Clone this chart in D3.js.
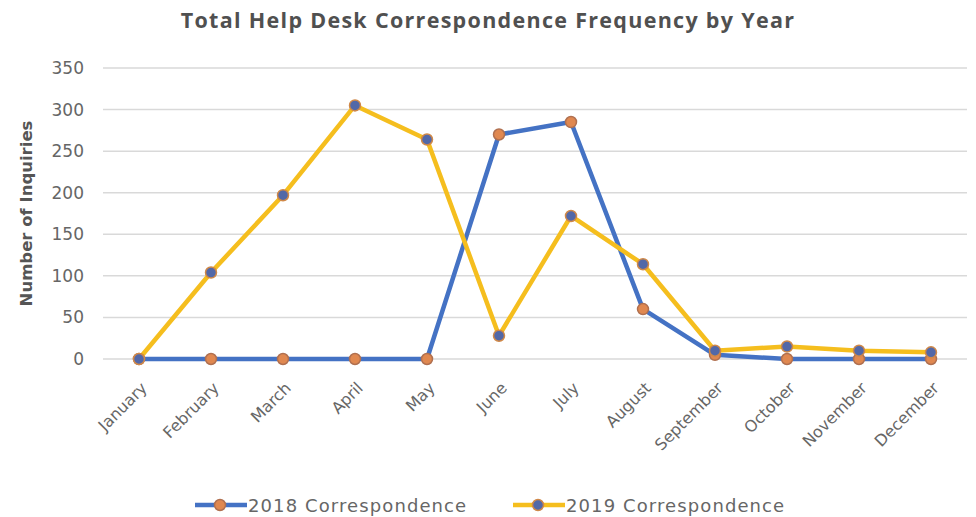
<!DOCTYPE html>
<html>
<head>
<meta charset="utf-8">
<script src="https://cdn.jsdelivr.net/npm/d3@7"></script>
<style>
  html, body { margin: 0; padding: 0; background: #fff; }
  svg { display: block; }
</style>
</head>
<body>
<svg id="chart" width="976" height="517"></svg>
<script>
const months = ["January","February","March","April","May","June","July","August","September","October","November","December"];
const values2018 = [0, 0, 0, 0, 0, 270, 285, 60, 5, 0, 0, 0];
const values2019 = [0, 104, 197, 305, 264, 28, 172, 114, 10, 15, 10, 8];
const yTicks = [0, 50, 100, 150, 200, 250, 300, 350];
const seriesNames = ["2018 Correspondence", "2019 Correspondence"];

const svg = d3.select("#chart");
const margin = { left: 103, right: 9, top: 68, bottom: 158 };
const W = 976, H = 517;
const labelFont = "DejaVu Sans, Verdana, sans-serif";

const x = d3.scaleBand().domain(months).range([margin.left, W - margin.right]);
const y = d3.scaleLinear().domain([0, 350]).range([H - margin.bottom, margin.top]);
const cx = m => x(m) + x.bandwidth() / 2;

// Title
svg.append("text")
  .attr("x", 488).attr("y", 28)
  .attr("text-anchor", "middle")
  .attr("font-family", "Open Sans, Liberation Sans, sans-serif")
  .attr("font-weight", 700)
  .attr("font-size", 21.5)
  .attr("letter-spacing", 1.3)
  .attr("fill", "#505050")
  .text("Total Help Desk Correspondence Frequency by Year");

// Gridlines
svg.append("g").selectAll("line").data(yTicks).join("line")
  .attr("x1", margin.left).attr("x2", W - margin.right)
  .attr("y1", d => y(d)).attr("y2", d => y(d))
  .attr("stroke", "#d9d9d9").attr("stroke-width", 1.5);

// Y axis labels
const yAxis = d3.axisLeft(y).tickValues(yTicks).tickSize(0).tickPadding(0);
const yg = svg.append("g").attr("transform", `translate(${margin.left - 19},0)`).call(yAxis);
yg.select(".domain").remove();
yg.selectAll("text")
  .attr("font-family", labelFont)
  .attr("font-size", 17).attr("fill", "#666");

// Y axis title
svg.append("text")
  .attr("transform", `translate(32,${(y(0) + y(350)) / 2}) rotate(-90)`)
  .attr("text-anchor", "middle")
  .attr("font-family", labelFont)
  .attr("font-weight", 700)
  .attr("font-size", 16.5).attr("fill", "#555")
  .text("Number of Inquiries");

// X axis labels
const xAxis = d3.axisBottom(x).tickSize(0).tickPadding(0);
const xg = svg.append("g").attr("transform", `translate(0,${y(0)})`).call(xAxis);
xg.select(".domain").remove();
xg.selectAll("text")
  .attr("font-family", labelFont)
  .attr("font-size", 16).attr("fill", "#666")
  .attr("text-anchor", "end")
  .attr("dy", 0)
  .attr("transform", "translate(9,30) rotate(-45)");

// Series
const series = [
  { name: seriesNames[0], values: values2018, line: "#4472C4", fill: "#E08850", stroke: "#B07050" },
  { name: seriesNames[1], values: values2019, line: "#F5BE1E", fill: "#5268A8", stroke: "#D08848" }
];

const lineGen = d3.line().x((d, i) => cx(months[i])).y(d => y(d));

series.forEach(s => {
  svg.append("path").datum(s.values)
    .attr("d", lineGen)
    .attr("fill", "none")
    .attr("stroke", s.line).attr("stroke-width", 4.5)
    .attr("stroke-linejoin", "round");
});
series.forEach(s => {
  svg.append("g").selectAll("circle").data(s.values).join("circle")
    .attr("cx", (d, i) => cx(months[i])).attr("cy", d => y(d))
    .attr("r", 5.5)
    .attr("fill", s.fill).attr("stroke", s.stroke).attr("stroke-width", 1.5);
});

// Legend
const legend = svg.append("g");
const legendX = [195, 513];
series.forEach((s, i) => {
  const g = legend.append("g").attr("transform", `translate(${legendX[i]},505)`);
  g.append("line").attr("x1", 0).attr("x2", 52).attr("y1", 0).attr("y2", 0)
    .attr("stroke", s.line).attr("stroke-width", 4.5);
  g.append("circle").attr("cx", 25).attr("cy", 0).attr("r", 5.5)
    .attr("fill", s.fill).attr("stroke", s.stroke).attr("stroke-width", 1.5);
  g.append("text").attr("x", 53).attr("y", 6.5)
    .attr("font-family", labelFont)
    .attr("font-size", 18).attr("letter-spacing", 1.1).attr("fill", "#666")
    .text(s.name);
});
</script>
</body>
</html>
